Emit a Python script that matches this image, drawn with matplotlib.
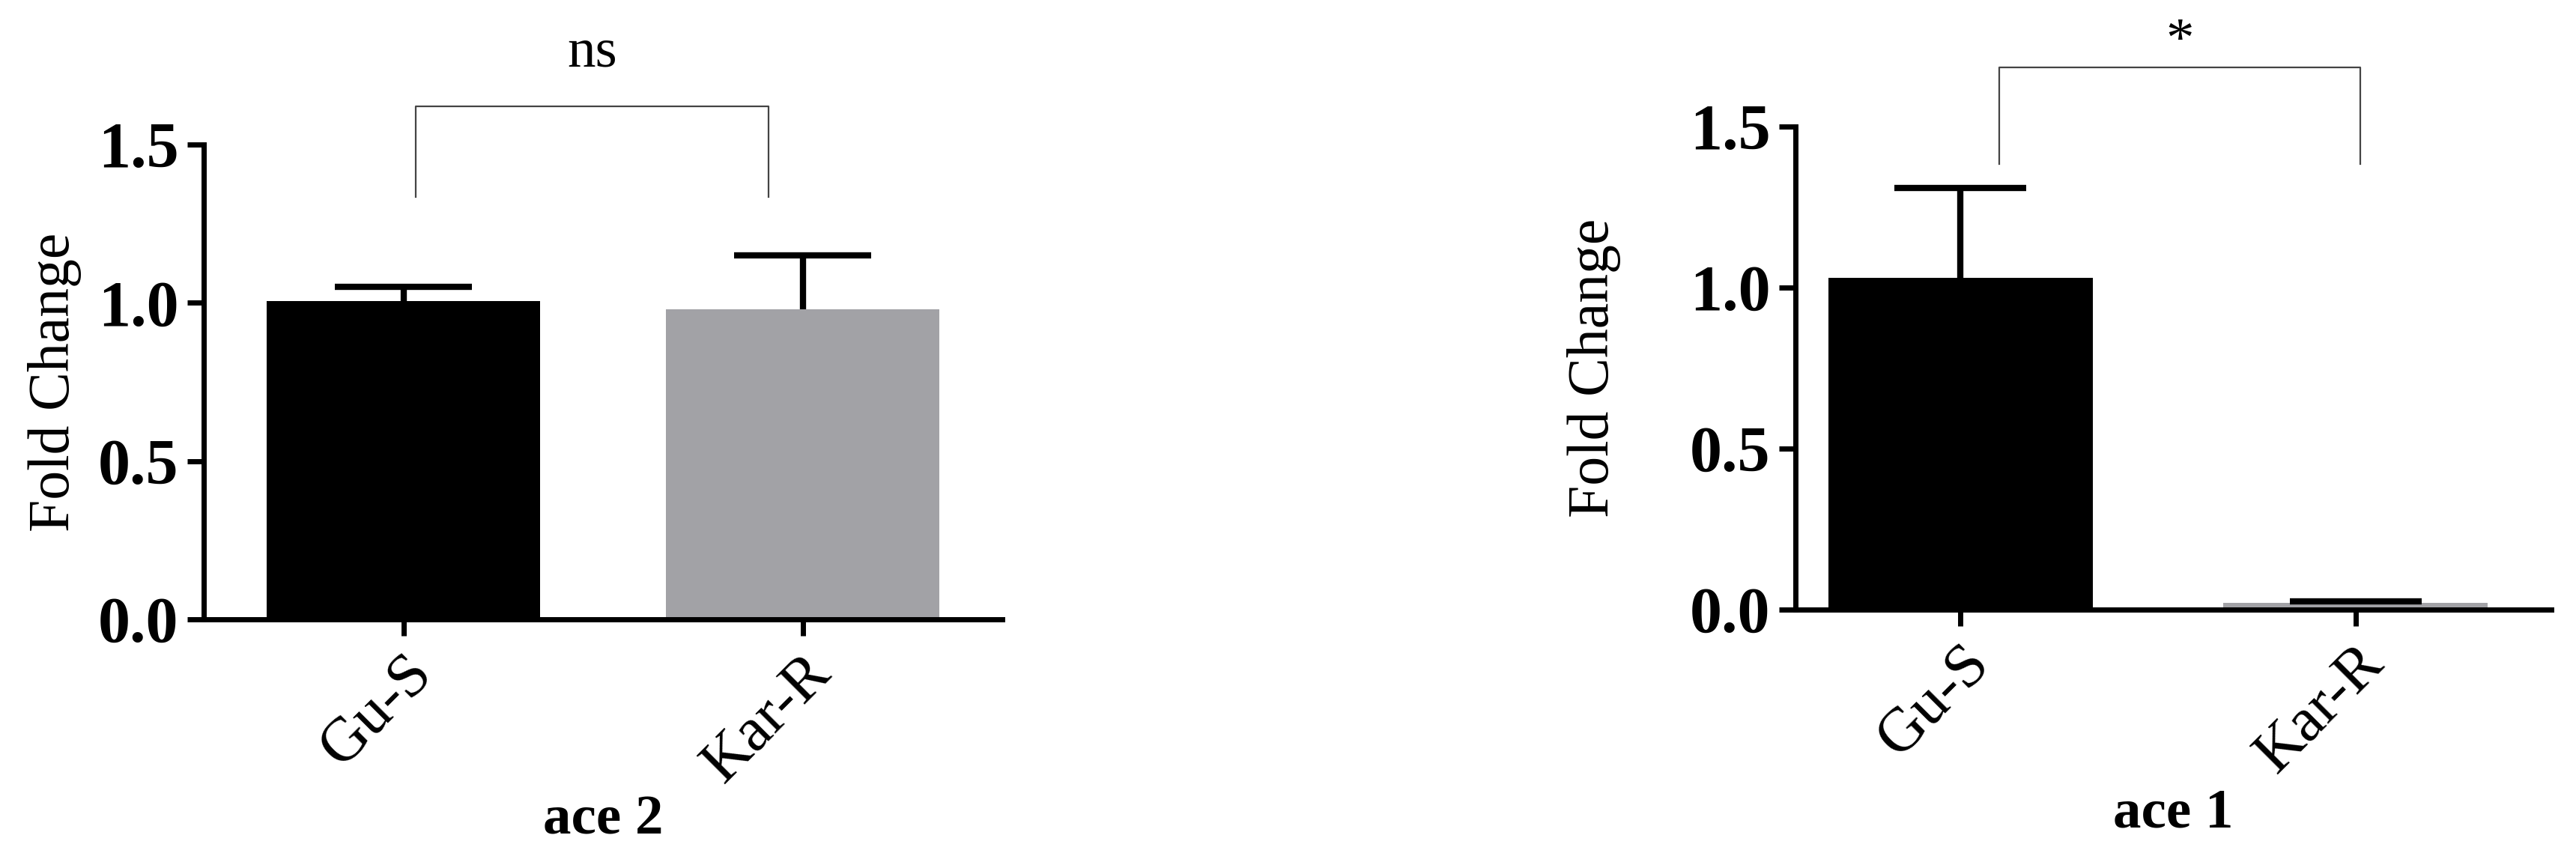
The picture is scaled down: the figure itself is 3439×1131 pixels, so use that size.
import matplotlib
matplotlib.use("Agg")
import matplotlib.pyplot as plt

plt.rcParams['font.family'] = ['Liberation Serif', 'DejaVu Serif']

groups = ['Gu-S', 'Kar-R']
colors = ['#000000', '#a2a2a6']

# ace 2 panel
ace2_mean = [1.005, 0.98]
ace2_err = [0.045, 0.17]
# ace 1 panel
ace1_mean = [1.03, 0.02]
ace1_err = [0.28, 0.005]

yticks = [0.0, 0.5, 1.0, 1.5]
ytick_labels = ['0.0', '0.5', '1.0', '1.5']


def draw_panel(ax, means, errs, xlim, width, title, sig, br_x, br_y, txt_y,
               ylab_pad, xlab_y):
    x = list(range(len(groups)))
    ax.bar(x, means, width=width, color=colors, zorder=2)
    # upper-only error bars, cap about half the bar width
    for xi, m, e in zip(x, means, errs):
        ax.vlines(xi, m, m + e, color='black', lw=6, zorder=3)
        ax.hlines(m + e, xi - width / 4, xi + width / 4, color='black',
                  lw=6, zorder=3)
    ax.set_xlim(*xlim)
    ax.set_ylim(0, 1.5)
    ax.set_yticks(yticks)
    ax.set_yticklabels(ytick_labels, fontsize=62, fontweight='bold')
    ax.set_xticks(x)
    ax.set_xticklabels(groups, fontsize=60, rotation=45, ha='right',
                       rotation_mode='anchor')
    ax.set_ylabel('Fold Change', fontsize=56, labelpad=ylab_pad)
    ax.set_xlabel(title, fontsize=54, fontweight='bold', va='top')
    ax.xaxis.set_label_coords(0.5, xlab_y)
    for s in ['top', 'right']:
        ax.spines[s].set_visible(False)
    for s in ['left', 'bottom']:
        ax.spines[s].set_linewidth(5)
    ax.tick_params(axis='both', width=5, length=16, pad=8)
    # significance bracket
    ax.plot([br_x[0], br_x[0], br_x[1], br_x[1]],
            [br_y[0], br_y[1], br_y[1], br_y[0]],
            color='#444444', lw=1.6, clip_on=False)
    ax.text((br_x[0] + br_x[1]) / 2, txt_y, sig, ha='center', va='center',
            fontsize=54, clip_on=False)


fig = plt.figure(figsize=(34.39, 11.31), dpi=100)
ax1 = fig.add_axes([0.0791, 0.2688, 0.3100, 0.5606])
ax2 = fig.add_axes([0.6970, 0.2803, 0.2934, 0.5703])

draw_panel(ax1, ace2_mean, ace2_err, (-0.5, 1.5), 0.685, 'ace 2', 'ns',
           (0.03, 0.915), (1.334, 1.62), 1.79, 16, -0.37)
draw_panel(ax2, ace1_mean, ace1_err, (-0.417, 1.495), 0.669, 'ace 1', '*',
           (0.098, 1.012), (1.383, 1.684), 1.76, 66, -0.37)

fig.savefig('out.png', dpi=100)
